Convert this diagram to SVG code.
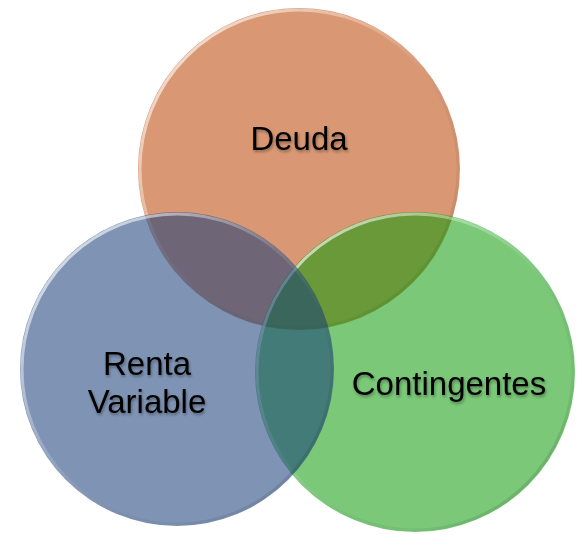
<svg xmlns="http://www.w3.org/2000/svg" width="580" height="535" viewBox="0 0 580 535">
  <style>
    .c { fill-opacity: 0.55; }
    .rim { fill: none; stroke: url(#rimGrad); stroke-width: 3; }
    .lbl { font-family: "Liberation Sans", Arial, sans-serif; font-size: 33px; fill: #000; text-anchor: middle; filter: url(#tshadow); }
  </style>
  <defs>
    <linearGradient id="rimGrad" x1="0" y1="0" x2="1" y2="1">
      <stop offset="0" stop-color="#ffffff" stop-opacity="0.85"/>
      <stop offset="0.45" stop-color="#ffffff" stop-opacity="0.15"/>
      <stop offset="0.75" stop-color="#000000" stop-opacity="0.05"/>
      <stop offset="1" stop-color="#000000" stop-opacity="0.2"/>
    </linearGradient>
    <filter id="tshadow" x="-20%" y="-30%" width="140%" height="160%">
      <feGaussianBlur in="SourceAlpha" stdDeviation="1.5"/>
      <feOffset dx="1" dy="2" result="b"/>
      <feComponentTransfer><feFuncA type="linear" slope="0.35"/></feComponentTransfer>
      <feMerge><feMergeNode/><feMergeNode in="SourceGraphic"/></feMerge>
    </filter>
  </defs>
  <g id="deuda">
    <circle class="c" cx="299" cy="169" r="161" fill="#B94300"/>
    <circle class="rim" cx="299" cy="169" r="159"/>
  </g>
  <g id="contingentes">
    <circle class="c" cx="415" cy="372" r="160" fill="#0D9B09"/>
    <circle class="rim" cx="415" cy="372" r="158"/>
  </g>
  <g id="renta-variable">
    <circle class="c" cx="177" cy="369" r="157" fill="#163C78"/>
    <circle class="rim" cx="177" cy="369" r="155"/>
  </g>
  <g id="labels">
    <text class="lbl" x="299" y="150">Deuda</text>
    <text class="lbl" x="449" y="395">Contingentes</text>
    <text class="lbl" x="147" y="375">Renta</text>
    <text class="lbl" x="147" y="413">Variable</text>
  </g>
</svg>
